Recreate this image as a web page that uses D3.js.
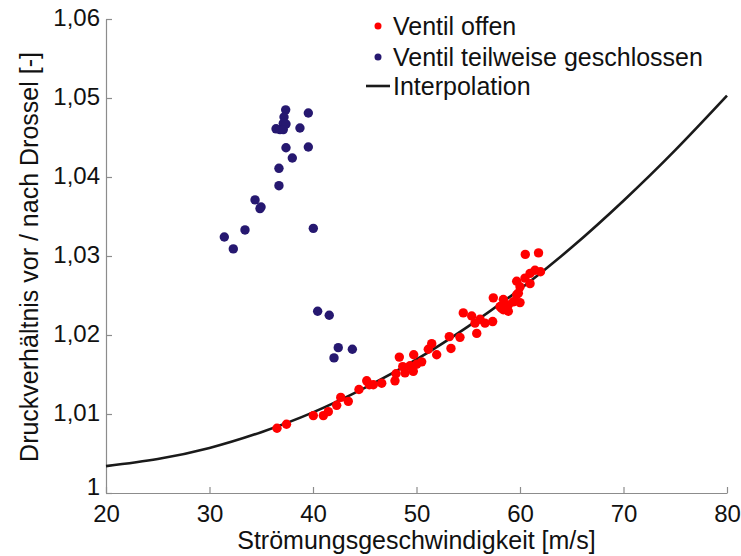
<!DOCTYPE html>
<html>
<head>
<meta charset="utf-8">
<script src="https://cdn.jsdelivr.net/npm/d3@7"></script>
<style>
  html, body { margin: 0; padding: 0; background: #fff; }
  svg { display: block; font-family: "Liberation Sans", Arial, sans-serif; }
</style>
</head>
<body>
<svg id="chart" width="741" height="556"></svg>
<script>
// Ventil offen: flow speed [m/s] and pressure ratio [-]
const openSpeed = [36.52, 37.44, 40.03, 41.00, 41.48, 42.29, 42.68, 43.41, 44.44, 45.19,
  45.44, 45.83, 46.64, 47.92, 48.02, 48.34, 48.67, 48.89, 49.37, 49.69,
  49.73, 50.02, 50.50, 51.14, 51.47, 51.95, 53.17, 53.33, 54.20, 54.52,
  55.33, 55.65, 55.82, 56.14, 56.62, 57.36, 57.42, 58.07, 58.39, 58.39,
  58.87, 58.87, 59.35, 59.68, 59.68, 59.84, 60.00, 60.00, 60.48, 60.51,
  61.79, 60.97, 60.97, 61.45, 61.98, 58.22];
const openRatio = [1.0082, 1.0087, 1.0098, 1.0098, 1.0103, 1.0111, 1.0121, 1.0116, 1.0131, 1.0142,
  1.0137, 1.0137, 1.0139, 1.0142, 1.0151, 1.0172, 1.0160, 1.0152, 1.0161, 1.0154,
  1.0175, 1.0163, 1.0166, 1.0182, 1.0189, 1.0175, 1.0198, 1.0183, 1.0197, 1.0228,
  1.0224, 1.0215, 1.0202, 1.0220, 1.0215, 1.0217, 1.0247, 1.0236, 1.0245, 1.0232,
  1.0230, 1.0238, 1.0242, 1.0251, 1.0268, 1.0253, 1.0261, 1.0241, 1.0272, 1.0302,
  1.0304, 1.0278, 1.0265, 1.0282, 1.0280, 1.0234];

// Ventil teilweise geschlossen
const closedSpeed = [37.36, 39.55, 37.20, 37.13, 37.39, 36.43, 36.81, 37.13, 38.74, 37.39,
  39.55, 38.00, 36.71, 36.71, 34.40, 34.98, 34.88, 33.43, 40.03, 31.43,
  32.30, 40.45, 41.57, 42.44, 43.80, 42.03];
const closedRatio = [1.0485, 1.0481, 1.0476, 1.0468, 1.0467, 1.0461, 1.0460, 1.0460, 1.0462, 1.0437,
  1.0438, 1.0424, 1.0411, 1.0389, 1.0371, 1.0362, 1.0360, 1.0333, 1.0335, 1.0324,
  1.0309, 1.0230, 1.0225, 1.0184, 1.0182, 1.0171];

// Interpolation curve, sampled every 5 m/s
const fitSpeed = [20, 25, 30, 35, 40, 45, 50, 55, 60, 65, 70, 75, 80];
const fitRatio = [1.0034, 1.0043, 1.0057, 1.0077, 1.0102, 1.0133, 1.0169, 1.0211, 1.0258, 1.0311, 1.0370, 1.0434, 1.0503];

// Axis ticks
const xTicks = [20, 30, 40, 50, 60, 70, 80];
const yTicks = [1.00, 1.01, 1.02, 1.03, 1.04, 1.05, 1.06];
const yTickLabels = ["1", "1,01", "1,02", "1,03", "1,04", "1,05", "1,06"];

const legendLabels = ["Ventil offen", "Ventil teilweise geschlossen", "Interpolation"];

const colors = { open: "#ff0000", closed: "#261870", fit: "#1a1a1a", axis: "#8c8c8c" };

const svg = d3.select("#chart");
const plotLeft = 106, plotRight = 727, plotTop = 19, plotBottom = 493;

const x = d3.scaleLinear().domain([20, 80]).range([plotLeft, plotRight]);
const y = d3.scaleLinear().domain([1.0, 1.06]).range([plotBottom, plotTop]);

// Axes with inward ticks
const xAxis = d3.axisBottom(x).tickValues(xTicks).tickSizeInner(-6).tickSizeOuter(0).tickPadding(12).tickFormat(d3.format("d"));
const yAxis = d3.axisLeft(y).tickValues(yTicks).tickSizeInner(-6).tickSizeOuter(0).tickPadding(6)
  .tickFormat((d, i) => yTickLabels[i]);

const gx = svg.append("g").attr("transform", `translate(0,${plotBottom})`).call(xAxis);
const gy = svg.append("g").attr("transform", `translate(${plotLeft},0)`).call(yAxis);
[gx, gy].forEach(g => {
  g.select(".domain").attr("stroke", colors.axis).attr("stroke-width", 1.2);
  g.selectAll(".tick line").attr("stroke", colors.axis).attr("stroke-width", 1.2);
  g.selectAll(".tick text").attr("fill", "#111").attr("font-size", 24)
    .attr("font-family", "'Liberation Sans', Arial, sans-serif");
});
gx.selectAll(".tick text").attr("dy", "0.71em");
// the lowest label sits a little higher so it clears the "20" below it
gy.selectAll(".tick text").attr("dy", d => d === 1.0 ? "0.05em" : "0.28em");

// Axis titles
svg.append("text")
  .attr("x", (plotLeft + plotRight) / 2).attr("y", 549)
  .attr("text-anchor", "middle").attr("font-size", 25).attr("fill", "#111")
  .text("Strömungsgeschwindigkeit [m/s]");
svg.append("text")
  .attr("transform", `translate(38,${(plotTop + plotBottom) / 2 + 1}) rotate(-90)`)
  .attr("text-anchor", "middle").attr("font-size", 25).attr("fill", "#111")
  .text("Druckverhältnis vor / nach Drossel [-]");

// Fitted curve
const fitData = fitSpeed.map((s, i) => [s, fitRatio[i]]);
svg.append("path")
  .datum(fitData)
  .attr("fill", "none").attr("stroke", colors.fit).attr("stroke-width", 2.6)
  .attr("d", d3.line().x(d => x(d[0])).y(d => y(d[1])).curve(d3.curveNatural));

// Scatter points
const openData = openSpeed.map((s, i) => [s, openRatio[i]]);
const closedData = closedSpeed.map((s, i) => [s, closedRatio[i]]);

svg.append("g").selectAll("circle").data(openData).join("circle")
  .attr("cx", d => x(d[0])).attr("cy", d => y(d[1])).attr("r", 4.7)
  .attr("fill", colors.open);
svg.append("g").selectAll("circle").data(closedData).join("circle")
  .attr("cx", d => x(d[0])).attr("cy", d => y(d[1])).attr("r", 4.7)
  .attr("fill", colors.closed);

// Legend
const legend = svg.append("g");
const legendY = [26, 57, 86];
legend.append("circle").attr("cx", 378).attr("cy", legendY[0]).attr("r", 3.5).attr("fill", colors.open);
legend.append("circle").attr("cx", 378).attr("cy", legendY[1]).attr("r", 3.5).attr("fill", colors.closed);
legend.append("line").attr("x1", 366).attr("x2", 390).attr("y1", legendY[2]).attr("y2", legendY[2])
  .attr("stroke", colors.fit).attr("stroke-width", 2.6);
legend.selectAll("text").data(legendLabels).join("text")
  .attr("x", 393).attr("y", (d, i) => legendY[i]).attr("dy", "0.35em")
  .attr("font-size", 25).attr("fill", "#111")
  .text(d => d);
</script>
</body>
</html>
